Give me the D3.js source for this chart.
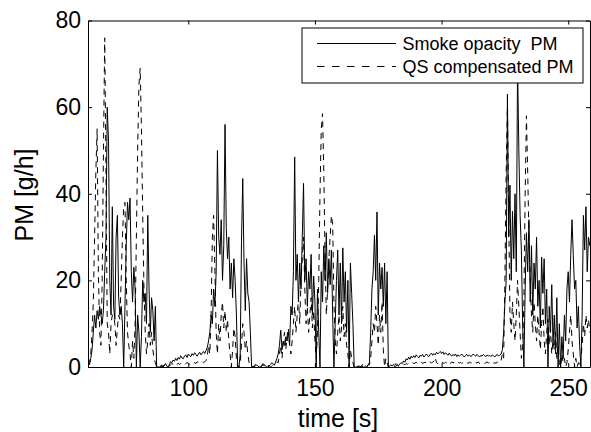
<!DOCTYPE html>
<html>
<head>
<meta charset="utf-8">
<script src="https://cdn.jsdelivr.net/npm/d3@7"></script>
<style>
  html, body { margin: 0; padding: 0; background: #fff; }
  svg { display: block; }
  text { font-family: "Liberation Sans", Arial, Helvetica, sans-serif; fill: #000; }
  .legend-label { white-space: pre; }
</style>
</head>
<body>
<svg id="chart" width="591" height="432"></svg>
<script>
// Sampling: one value every 0.5 s starting at t = 60.5 s
const startTime = 60.5;
const sampleStep = 0.5;

// Smoke opacity based PM emission [g/h]
const smokeOpacityPM = [
  // 60.5 – 88 s
  1, 0.5, 2, 4, 8, 12, 9, 13, 11, 14,
  12, 10, 13, 22, 30, 60, 52, 20, 12, 37,
  14, 11, 30, 35, 16, 12, 14, 10, 0, 14,
  28, 38, 34, 39, 22, 15, 23, 18, 0, 12,
  8, 0, 7, 20, 15, 17, 10, 35, 18, 8,
  16, 13, 6, 14, 0, 0,
  // 88.5 – 108 s
  0, 0, 0.5, 0, 0.3, 0.8, 0.2, 0, 0.5, 1.2,
  1.0, 1.6, 1.3, 2.0, 1.5, 2.2, 1.8, 2.6, 2.1, 1.9,
  2.5, 2.8, 2.2, 3.0, 2.6, 2.4, 3.1, 2.7, 3.3, 2.9,
  2.5, 3.0, 3.4, 2.8, 3.2, 3.6, 3.1, 3.8, 4.5, 6,
  // 108.5 – 125 s
  8, 12, 10, 18, 14, 22, 50, 30, 26, 34,
  20, 28, 56, 32, 25, 30, 18, 24, 16, 25,
  20, 12, 0, 0, 3, 29, 43.5, 24, 13, 25,
  17, 15, 8, 0,
  // 125.5 – 135 s
  0, 0, 0.3, 0.5, 0.2, 0, 0, 0.4, 0.8, 0.5,
  0.2, 0, 0, 0.3, 0.6, 1.0, 0.7, 0.4, 1.2, 2.0,
  // 135.5 – 165.5 s
  3, 5, 8.5, 4, 6, 5, 7, 6, 8, 5,
  14, 12, 22, 48.5, 20, 26, 15, 24, 18, 30,
  42.4, 20, 25, 14, 22, 18, 26, 12, 21, 15,
  0, 18, 8, 0, 22, 15, 28, 20, 31, 17,
  25, 19, 27, 12, 0, 10, 20, 27, 12, 24,
  10, 27.5, 15, 22, 8, 20, 0, 24, 17, 10,
  0,
  // 166 – 171 s
  0, 0, 0.2, 0, 0, 0.3, 0, 0, 0.2, 0, 0.5,
  // 171.5 – 179 s
  1, 8, 18, 22, 30.4, 20, 35.8, 12, 24, 18,
  23, 14, 24, 10, 22, 0,
  // 179.5 – 224 s
  0.3, 0.5, 0.2, 0.6, 0.4, 0.8, 0.5, 0.3, 0.7, 1.0,
  0.8, 1.4, 1.1, 1.9, 1.6, 2.3, 1.8, 2.5, 2.1, 2.6,
  2.2, 2.8, 2.4, 2.1, 2.7, 2.5, 2.9, 2.3, 2.6, 3.0,
  2.6, 2.4, 2.9, 3.2, 2.7, 3.1, 2.8, 3.4, 3.0, 3.3,
  3.6, 3.1, 3.5, 2.9, 3.3, 3.0, 2.7, 3.2, 2.8, 2.5,
  2.9, 2.6, 3.0, 2.4, 2.8, 2.5, 2.7, 3.0, 2.6, 2.3,
  2.7, 2.9, 2.5, 2.8, 2.4, 2.6, 3.0, 2.7, 2.5, 2.9,
  2.6, 2.3, 2.7, 2.5, 2.9, 2.6, 2.4, 2.8, 2.5, 2.7,
  2.4, 2.8, 2.6, 2.3, 2.7, 2.9, 2.5, 2.8, 3.0, 4.0,
  // 224.5 – 258.5 s
  8, 15, 20, 63, 30, 42, 20, 36, 25, 40,
  22, 70, 50.4, 35, 27, 10, 0, 18, 31, 22,
  34, 15, 28, 12, 24, 18, 30, 14, 20, 9,
  25.4, 17, 25, 10, 18, 0, 14, 8, 19, 5,
  12, 3, 16, 0, 10, 0, 7, 2, 12, 6,
  18, 22, 15, 26, 34, 25.8, 18, 20, 9, 14,
  5, 0, 12, 35, 27, 37, 22, 30, 28
];

// QS compensated PM emission [g/h]
const qsCompensatedPM = [
  // 60.5 – 88 s
  0.5, 1, 3, 8, 15, 30, 45, 55, 22, 8,
  5, 20, 50, 76, 45, 10, 8, 3, 10, 12,
  12, 10, 5, 9, 12, 11, 20, 30, 37, 38,
  20, 8, 5, 3, 0, 6, 2, 10, 30, 50,
  65, 69, 55, 35, 18, 8, 3, 6, 10, 5,
  8, 4, 2, 1, 0, 0,
  // 88.5 – 108 s
  0, 0.3, 0, 0.2, 0.5, 0.3, 0.6, 0.4, 0.2, 0.5,
  0.8, 0.6, 0.4, 0.7, 0.5, 0.9, 0.6, 0.8, 1.0, 0.7,
  0.5, 0.8, 1.0, 0.9, 0.6, 0.8, 1.1, 0.9, 1.0, 0.8,
  1.2, 1.0, 0.9, 1.1, 1.3, 1.0, 1.2, 1.5, 2.5, 5,
  // 108.5 – 125 s
  3, 12, 30, 35, 22, 8, 3, 10, 6, 12,
  15, 9, 13, 8, 11, 6, 3, 0, 4, 9,
  7, 2, 0, 0, 1, 5, 10, 8, 4, 6,
  3, 1, 0, 0,
  // 125.5 – 135 s
  0, 0.3, 0.6, 0.4, 0.2, 0, 0, 0.2, 0.5, 0.3,
  0.6, 0.9, 0.4, 0.2, 0, 0.3, 0.5, 0.8, 1.0, 1.2,
  // 135.5 – 165.5 s
  1, 3, 5, 2, 6, 8, 4, 7, 9, 5,
  3, 6, 10, 14, 8, 12, 16, 10, 20, 25,
  30, 18, 10, 14, 8, 12, 16, 9, 13, 6,
  2, 8, 20, 40, 55, 58.5, 45, 25, 12, 18,
  25, 30, 35, 33, 15, 6, 3, 8, 12, 6,
  9, 14, 7, 10, 5, 3, 0, 4, 2, 1,
  0,
  // 166 – 171 s
  0, 0.3, 0.5, 0.2, 0, 0.4, 0.6, 0.3, 0, 0.2, 0.5,
  // 171.5 – 179 s
  0.5, 2, 6, 10, 8, 14, 10, 5, 12, 8,
  15, 4, 0, 2, 1, 0,
  // 179.5 – 224 s
  0, 0.2, 0, 0.3, 0.1, 0.2, 0.4, 0.2, 0.3, 0.5,
  0.4, 0.6, 0.5, 0.8, 0.6, 0.9, 0.7, 0.8, 1.0, 0.8,
  0.9, 1.1, 0.8, 1.0, 0.9, 1.2, 0.8, 1.0, 1.1, 0.9,
  1.0, 0.8, 1.2, 0.9, 1.1, 1.4, 2.2, 1.0, 0.8, 1.1,
  0.9, 1.2, 1.0, 0.8, 1.1, 0.9, 1.3, 1.0, 0.8, 1.2,
  0.9, 1.1, 0.8, 1.0, 1.2, 0.9, 1.1, 0.8, 1.0, 0.9,
  1.1, 1.0, 0.8, 1.2, 0.9, 1.0, 1.1, 0.8, 1.0, 0.9,
  1.2, 0.8, 1.0, 1.1, 0.9, 0.8, 1.0, 1.2, 0.9, 1.0,
  0.8, 1.1, 0.9, 1.0, 0.8, 1.2, 0.9, 1.0, 1.5, 3.0,
  // 224.5 – 258.5 s
  2, 20, 45, 60, 35, 12, 8, 15, 10, 6,
  12, 20, 14, 8, 2, 5, 15, 40, 58, 45,
  30, 20, 12, 8, 15, 10, 6, 12, 8, 4,
  10, 14, 6, 3, 8, 11, 5, 9, 3, 6,
  4, 8, 2, 5, 1, 0, 3, 1, 2, 0,
  1, 4, 8, 12, 6, 3, 0, 2, 0, 1,
  0, 2, 5, 10, 7, 12, 9, 11, 8
];

const xTicks = [100, 150, 200, 250];
const yTicks = [0, 20, 40, 60, 80];
const legendLabels = ["Smoke opacity  PM", "QS compensated PM"];
const xLabel = "time [s]";
const yLabel = "PM [g/h]";

const time = smokeOpacityPM.map((_, i) => startTime + i * sampleStep);

const svg = d3.select("#chart");
const plot = { left: 88, right: 590, top: 20.5, bottom: 367 };

const x = d3.scaleLinear().domain([60.4, 258.6]).range([plot.left, plot.right]);
const y = d3.scaleLinear().domain([0, 80]).range([plot.bottom, plot.top]);

svg.append("defs").append("clipPath").attr("id", "plot-clip")
  .append("rect")
  .attr("x", plot.left).attr("y", plot.top)
  .attr("width", plot.right - plot.left).attr("height", plot.bottom - plot.top);

// Data traces
const line = d3.line().x((d, i) => x(time[i])).y(d => y(d));
const traces = svg.append("g").attr("clip-path", "url(#plot-clip)");
traces.append("path").datum(qsCompensatedPM)
  .attr("d", line).attr("fill", "none").attr("stroke", "#000")
  .attr("stroke-width", 1).attr("stroke-dasharray", "6,5");
traces.append("path").datum(smokeOpacityPM)
  .attr("d", line).attr("fill", "none").attr("stroke", "#000")
  .attr("stroke-width", 1);

// Axes with inward ticks on all four sides (boxed frame)
const tickLen = 4;
const fontTick = 23;
const axB = svg.append("g").attr("transform", `translate(0,${plot.bottom})`)
  .call(d3.axisBottom(x).tickValues(xTicks).tickSizeInner(-tickLen).tickSizeOuter(0).tickPadding(13));
const axT = svg.append("g").attr("transform", `translate(0,${plot.top})`)
  .call(d3.axisTop(x).tickValues(xTicks).tickSizeInner(-tickLen).tickSizeOuter(0).tickFormat(""));
const axL = svg.append("g").attr("transform", `translate(${plot.left},0)`)
  .call(d3.axisLeft(y).tickValues(yTicks).tickSizeInner(-tickLen).tickSizeOuter(0).tickPadding(7));
const axR = svg.append("g").attr("transform", `translate(${plot.right},0)`)
  .call(d3.axisRight(y).tickValues(yTicks).tickSizeInner(-tickLen).tickSizeOuter(0).tickFormat(""));

[axB, axT, axL, axR].forEach(g => {
  g.select(".domain").attr("stroke", "#000").attr("stroke-width", 1);
  g.selectAll(".tick line").attr("stroke", "#000").attr("stroke-width", 1);
  g.selectAll(".tick text").attr("font-size", fontTick)
    .attr("font-family", '"Liberation Sans", Arial, sans-serif').attr("fill", "#000");
});

// Axis titles
svg.append("text").attr("x", 338).attr("y", 427)
  .attr("text-anchor", "middle").attr("font-size", 25).text(xLabel);
svg.append("text")
  .attr("transform", `translate(33,195) rotate(-90)`)
  .attr("text-anchor", "middle").attr("font-size", 25).text(yLabel);

// Legend
const legend = svg.append("g");
legend.append("rect").attr("x", 302).attr("y", 28).attr("width", 281).attr("height", 55)
  .attr("fill", "#fff").attr("stroke", "#000").attr("stroke-width", 1);
const rows = [
  { label: legendLabels[0], dash: null, y: 43.5 },
  { label: legendLabels[1], dash: "7.5,7.5", y: 66.5 }
];
rows.forEach(r => {
  legend.append("line").attr("x1", 317).attr("x2", 396).attr("y1", r.y).attr("y2", r.y)
    .attr("stroke", "#000").attr("stroke-width", 1)
    .attr("stroke-dasharray", r.dash);
  legend.append("text").attr("class", "legend-label")
    .attr("x", 402.5).attr("y", r.y).attr("dy", "0.35em")
    .attr("font-size", 18).text(r.label);
});
</script>
</body>
</html>
